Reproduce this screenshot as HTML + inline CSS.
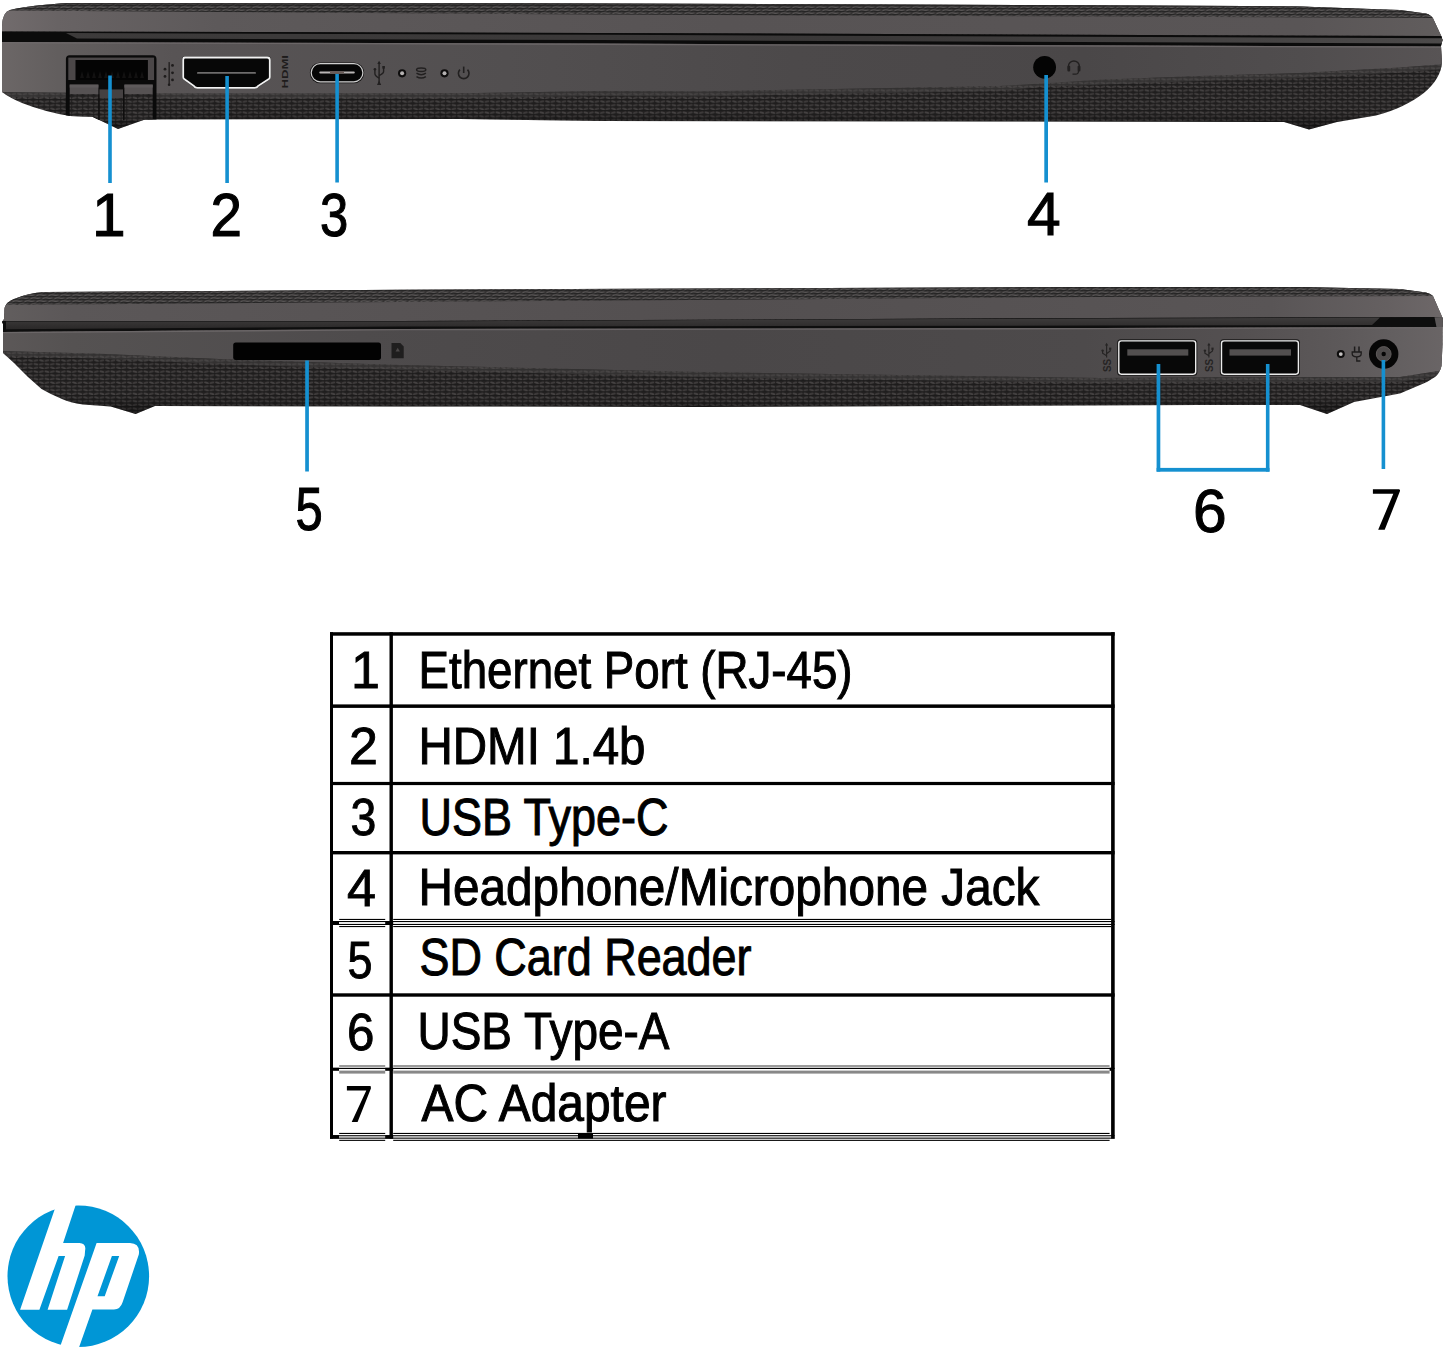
<!DOCTYPE html>
<html>
<head>
<meta charset="utf-8">
<style>
html,body{margin:0;padding:0;background:#fff;}
body{width:1445px;height:1350px;overflow:hidden;position:relative;font-family:"Liberation Sans",sans-serif;}
svg{position:absolute;left:0;top:0;display:block;}
</style>
</head>
<body>
<svg width="1445" height="1350" viewBox="0 0 1445 1350">
<defs>
  <pattern id="tex" x="0" y="0" width="11" height="7.4" patternUnits="userSpaceOnUse">
    <rect width="11" height="7.4" fill="#232121"/>
    <ellipse cx="3" cy="1.7" rx="2.5" ry="0.95" transform="rotate(14 3 1.7)" fill="#454242"/>
    <ellipse cx="8.3" cy="1.7" rx="2.5" ry="0.95" transform="rotate(-14 8.3 1.7)" fill="#3e3b3b"/>
    <ellipse cx="8.5" cy="5.4" rx="2.5" ry="0.95" transform="rotate(14 8.5 5.4)" fill="#454242"/>
    <ellipse cx="13.8" cy="5.4" rx="2.5" ry="0.95" transform="rotate(-14 13.8 5.4)" fill="#3e3b3b"/>
    <ellipse cx="2.8" cy="5.4" rx="2.5" ry="0.95" transform="rotate(-14 2.8 5.4)" fill="#3e3b3b"/>
    <rect x="0" y="3.2" width="11" height="0.5" fill="#161515"/>
    <rect x="0" y="6.9" width="11" height="0.5" fill="#161515"/>
  </pattern>
  <pattern id="tex2" x="0" y="0" width="12" height="6" patternUnits="userSpaceOnUse">
    <rect width="12" height="6" fill="#353333"/>
    <path d="M0.5,1.8 Q3,0.4 6,1.2 Q8,1.7 10.5,1" stroke="#575454" stroke-width="1.2" fill="none"/>
    <path d="M6.5,4.8 Q9,3.4 12,4.2 Q14,4.7 16.5,4 M-5.5,4.8 Q-3,3.4 0,4.2 Q2,4.7 4.5,4" stroke="#575454" stroke-width="1.2" fill="none"/>
    <path d="M0.5,2.9 Q3,1.7 6,2.4 Q8,2.9 10.5,2.2" stroke="#201f1f" stroke-width="0.8" fill="none"/>
    <path d="M6.5,5.9 Q9,4.7 12,5.4 Q14,5.9 16.5,5.2 M-5.5,5.9 Q-3,4.7 0,5.4 Q2,5.9 4.5,5.2" stroke="#201f1f" stroke-width="0.8" fill="none"/>
  </pattern>
  <linearGradient id="band1" x1="0" x2="1445" y1="0" y2="0" gradientUnits="userSpaceOnUse">
    <stop offset="0" stop-color="#6c6767"/>
    <stop offset="0.04" stop-color="#625e5e"/>
    <stop offset="0.12" stop-color="#585455"/>
    <stop offset="0.35" stop-color="#524f50"/>
    <stop offset="0.55" stop-color="#4c494a"/>
    <stop offset="0.75" stop-color="#4a4748"/>
    <stop offset="0.9" stop-color="#504d4e"/>
    <stop offset="1" stop-color="#585455"/>
  </linearGradient>
  <linearGradient id="lid1" x1="0" x2="1445" y1="0" y2="0" gradientUnits="userSpaceOnUse">
    <stop offset="0" stop-color="#726c6d"/>
    <stop offset="0.04" stop-color="#686364"/>
    <stop offset="0.15" stop-color="#5d595a"/>
    <stop offset="0.5" stop-color="#575354"/>
    <stop offset="0.9" stop-color="#595556"/>
    <stop offset="1" stop-color="#615d5d"/>
  </linearGradient>
  <linearGradient id="band2" x1="0" x2="1445" y1="0" y2="0" gradientUnits="userSpaceOnUse">
    <stop offset="0" stop-color="#5c5858"/>
    <stop offset="0.05" stop-color="#555252"/>
    <stop offset="0.25" stop-color="#4e4b4c"/>
    <stop offset="0.5" stop-color="#4a4748"/>
    <stop offset="0.75" stop-color="#4d4a4b"/>
    <stop offset="0.86" stop-color="#545051"/>
    <stop offset="0.93" stop-color="#5d595a"/>
    <stop offset="0.97" stop-color="#646061"/>
    <stop offset="1" stop-color="#6a6566"/>
  </linearGradient>
  <linearGradient id="lid2" x1="0" x2="1445" y1="0" y2="0" gradientUnits="userSpaceOnUse">
    <stop offset="0" stop-color="#625e5e"/>
    <stop offset="0.05" stop-color="#5b5758"/>
    <stop offset="0.5" stop-color="#534f50"/>
    <stop offset="0.88" stop-color="#595556"/>
    <stop offset="0.96" stop-color="#656061"/>
    <stop offset="1" stop-color="#6e6869"/>
  </linearGradient>
  <linearGradient id="gapg" x1="0" x2="0" y1="0" y2="1">
    <stop offset="0" stop-color="#3e3c3c"/>
    <stop offset="1" stop-color="#2a2828"/>
  </linearGradient>
  <linearGradient id="gap1" x1="0" x2="1445" y1="0" y2="0" gradientUnits="userSpaceOnUse">
    <stop offset="0" stop-color="#3d3b3b"/>
    <stop offset="0.6" stop-color="#3a3838"/>
    <stop offset="1" stop-color="#4c4a4a"/>
  </linearGradient>
  <linearGradient id="fadeT" x1="0" x2="0" y1="0" y2="1">
    <stop offset="0" stop-color="#4d4b4c" stop-opacity="1"/>
    <stop offset="1" stop-color="#4d4b4c" stop-opacity="0"/>
  </linearGradient>
  <linearGradient id="fadeB" x1="0" x2="0" y1="0" y2="1">
    <stop offset="0" stop-color="#000" stop-opacity="0"/>
    <stop offset="1" stop-color="#000" stop-opacity="0.55"/>
  </linearGradient>

  <clipPath id="c1"><path d="M2,92 L2,26 Q2.5,12 10,10 Q30,5 70,3 L600,3.4 L1245,6 L1300,6.5 L1400,10 L1426,13.6 Q1431,15 1433,18.3 L1441.5,36.5 L1442.5,40 L1441,46 L1442,62 C1441,85 1415,105 1376,115.5 L1337,122 L1309,129.5 L1284,122 L1000,121.5 L600,121 L460,119 L145,119.5 L118,129 L92,116.5 L70,116 Q45,112 22,103 Q10,98 2,92 Z"/></clipPath>
  <clipPath id="c2"><path d="M3,352 L3,324 L2,322 L4,319 L4.5,308 Q6,302 14,299 Q28,293 45,292 L400,289.7 L1100,287 L1300,287 L1400,289 L1426,292.5 Q1431,293.6 1433,296 L1441.5,315.5 L1442.5,318 L1442.5,345 L1441.5,366 Q1440,373 1435,377 Q1428,382 1420,385 L1400,393.5 L1354,402 L1327,414 L1300,405 L1200,405 L700,407 L400,406.4 L155,406 L135.6,414 L110.7,406.5 L83,404.6 Q70,402.5 62,399 Q50,394 41.5,389 L28,377 L14,363 L3,353 Z"/></clipPath>
</defs>
<g clip-path="url(#c1)">
  <rect x="0" y="0" width="1445" height="140" fill="url(#tex)"/>
  <path d="M0,0 L600,0 L1445,0 L1445,18 L600,14.5 L0,10.5 Z" fill="url(#tex2)"/>
  <path d="M0,0 L1445,0 L1445,7.5 L0,4.5 Z" fill="#2a2828" opacity="0.6"/>
  <path d="M0,10.5 L600,14.5 L1445,18 L1445,36 L600,33 L0,31.4 Z" fill="url(#lid1)"/>
  <path d="M0,31.4 L600,33 L1445,36 L1445,46.5 L600,43.6 L0,42 Z" fill="#0b0b0b"/>
  <path d="M66,33 L600,34.8 L1443,38.2 L1443,43.6 L600,40 L77,38.6 Z" fill="url(#gap1)"/>
  <path d="M0,42 L70,42.19 L160,42.43 L300,42.8 L460,43.23 L600,43.6 L700,43.94 L850,44.46 L1000,44.97 L1100,45.32 L1200,45.66 L1300,46 L1400,46.35 L1445,46.5 L1445,64 L1400,67.6 L1300,73 L1200,76 L1100,79.75 L1000,86 L850,88.75 L700,91.5 L600,91 L460,93.3 L300,93.46 L160,93.6 L70,92.7 L0,92 Z" fill="url(#band1)"/>
  <path d="M0,92 L160,93.6 L460,93.3 L600,91 L700,91.5 L1000,86 L1040,82 L1200,76 L1300,73 L1400,67.6 L1445,64 L1445,69 L1400,72.6 L1300,78 L1200,81 L1040,87 L1000,91 L700,96.5 L600,96 L460,98.3 L160,98.6 L0,97 Z" fill="#4d4b4c" opacity="0.45"/>
  <path d="M0,42 L600,43.6 L1445,46.5 L1445,47.8 L600,45 L0,43.4 Z" fill="#6e6a6b" opacity="0.85"/>
  <path d="M0,110 L600,115 L1445,116 L1445,135 L0,135 Z" fill="url(#fadeB)"/>
  <path d="M65.9,120 L65.9,59 Q65.9,55.2 69.7,55.2 L152.7,55.2 Q156.5,55.2 156.5,59 L156.5,120 Z" fill="#0a0a0a"/>
  <rect x="68.3" y="57.6" width="85.8" height="22.4" fill="#4b4748"/>
  <rect x="75.5" y="60" width="72.4" height="20" fill="#040404"/>
  <rect x="69.7" y="84.6" width="28.7" height="9.7" fill="#565253"/>
  <rect x="69.7" y="84.6" width="28.7" height="3" fill="#5e5a5b"/>
  <rect x="124.4" y="84.6" width="28.3" height="9.7" fill="#565253"/>
  <rect x="124.4" y="84.6" width="28.3" height="3" fill="#5e5a5b"/>
  <rect x="99.4" y="89.4" width="23.6" height="9" fill="#454142"/>
  <rect x="69.7" y="94.3" width="28.7" height="26" fill="url(#tex)"/>
  <rect x="124.4" y="94.3" width="28.3" height="26" fill="url(#tex)"/>
  <rect x="99.4" y="98.4" width="23.6" height="22" fill="url(#tex)"/>
  <rect x="98.4" y="94.3" width="1" height="26" fill="#141313"/>
  <rect x="123.4" y="94.3" width="1" height="26" fill="#141313"/>
  <g fill="#121111">
    <path d="M80,78 L82,71 L84,78 Z M86,78 L88,71 L90,78 Z M92,78 L94,71 L96,78 Z M98,78 L100,71 L102,78 Z M104,78 L106,71 L108,78 Z M110,78 L112,71 L114,78 Z M116,78 L118,71 L120,78 Z M122,78 L124,71 L126,78 Z M128,78 L130,71 L132,78 Z M134,78 L136,71 L138,78 Z M140,78 L142,71 L144,78 Z"/>
  </g>
</g>
<g fill="#1e1c1c">
  <rect x="168.5" y="62.1" width="1.3" height="22.5"/>
  <circle cx="169.1" cy="84.8" r="1.3"/>
  <circle cx="165" cy="69.2" r="1.4"/><circle cx="165" cy="76.4" r="1.4"/>
  <circle cx="172.5" cy="65.4" r="1.4"/><circle cx="172.5" cy="72.8" r="1.4"/><circle cx="172.5" cy="79.9" r="1.4"/>
</g>
<path d="M184.5,56.3 L267.5,56.3 Q270.9,56.3 270.9,59.5 L270.9,77.5 Q270.9,79 269.5,79.8 L259,86.5 Q257.5,89 255,89 L197,89 Q194.5,89 193,86.5 L183.5,79.8 Q182,79 182,77.5 L182,59.5 Q182,56.3 184.5,56.3 Z" fill="#1a1919"/>
<path d="M184.8,57.5 L267.2,57.5 Q269.8,57.5 269.8,60 L269.8,77.2 Q269.8,78.3 268.8,79 L258.3,85.8 Q257,87.9 254.8,87.9 L197.2,87.9 Q195,87.9 193.7,85.8 L184.2,79 Q183.2,78.3 183.2,77.2 L183.2,60 Q183.2,57.5 184.8,57.5 Z" fill="#070707" stroke="#f2f2f2" stroke-width="1.8"/>
<rect x="197" y="72" width="59" height="1.8" rx="0.9" fill="#6e6c6c"/>
<text transform="translate(288.2,88.6) rotate(-90)" font-family="Liberation Sans" font-weight="bold" font-size="9.3" fill="#1e1c1c" textLength="33.6" lengthAdjust="spacingAndGlyphs">HDMI</text>
<rect x="309.8" y="62.4" width="54.4" height="20.8" rx="10.4" fill="#161515"/>
<rect x="311.2" y="63.7" width="51.7" height="18.1" rx="9" fill="#060606" stroke="#cfcfcf" stroke-width="1.2"/>
<rect x="319.3" y="71.4" width="35.5" height="2" rx="1" fill="#b8b4b4"/>
<rect x="330" y="71.4" width="14" height="2" fill="#6a5c58"/>
<g stroke="#222020" fill="none" stroke-width="1.4">
  <path d="M379.1,62.5 L379.1,83"/>
  <path d="M374.9,70 L374.9,73.5 Q374.9,76 379.1,78"/>
  <path d="M383.6,68 L383.6,71.5 Q383.6,73.5 379.1,75.5"/>
  <path d="M459.9,69.6 A5.3,5.3 0 1 0 467.5,69.6" stroke-width="1.6"/>
  <path d="M463.7,66.6 L463.7,73" stroke-width="1.6"/>
  <ellipse cx="421.2" cy="69.8" rx="4.6" ry="1.7" stroke-width="1.5"/>
  <path d="M416.5,73.2 Q421.2,76.2 425.9,73.2 M416.5,76.6 Q421.2,79.6 425.9,76.6" stroke-width="1.5"/>
</g>
<path d="M379.1,60.8 L377.3,64 L380.9,64 Z" fill="#222020"/>
<path d="M379.1,80.5 L377,85 L381.2,85 Z" fill="#222020"/>
<circle cx="374.9" cy="69.3" r="1.3" fill="#222020"/>
<rect x="382.3" y="66" width="2.6" height="2.6" fill="#222020"/>
<circle cx="402.1" cy="73.3" r="4.1" fill="#0e0d0d"/>
<circle cx="402.1" cy="73.3" r="2" fill="#b5b2b2"/>
<circle cx="444.5" cy="73.3" r="4.1" fill="#0e0d0d"/>
<circle cx="444.5" cy="73.3" r="2" fill="#b5b2b2"/>
<circle cx="1044.6" cy="67.3" r="11.4" fill="#040404"/>
<path d="M1068.4,69.5 L1068.4,66.5 A5.5,5.5 0 0 1 1079.4,66.5 L1079.4,69.5" stroke="#222020" stroke-width="1.4" fill="none"/>
<rect x="1067.4" y="65.8" width="2.8" height="5.6" rx="1" fill="#222020"/>
<rect x="1077.6" y="65.8" width="2.8" height="5.6" rx="1" fill="#222020"/>
<path d="M1078.5,71 Q1078.5,74.2 1075.5,74.2 L1072.5,74.2" stroke="#222020" stroke-width="1.2" fill="none"/>
<g clip-path="url(#c2)">
  <rect x="0" y="280" width="1445" height="140" fill="url(#tex)"/>
  <path d="M0,280 L400,280 L1100,280 L1445,280 L1445,296 L1100,297 L400,302 L0,305 Z" fill="url(#tex2)"/>
  <path d="M0,305 L400,302 L1100,297 L1445,296 L1445,317 L1100,318 L400,321 L0,321 Z" fill="url(#lid2)"/>
  <path d="M0,321 L400,321 L1100,318 L1445,317 L1445,327 L1100,328 L400,329 L0,332 Z" fill="#0e0e0e"/>
  <path d="M6,321.6 L400,321.4 L1100,318.4 L1370,317.6 L1380,317.6 L1372,325 L1100,325.6 L400,326.6 L6,329.2 Z" fill="url(#gapg)"/>
  <path d="M0,332 L100,331.25 L230,330.27 L400,329 L700,328.57 L1100,328 L1245,327.58 L1400,327.13 L1445,327 L1445,370 L1400,377 L1245,377 L1100,378 L700,372 L400,365 L230,359.4 L100,353.8 L0,351 Z" fill="url(#band2)"/>
  <path d="M0,332 L400,329 L1100,328 L1445,327 L1445,328.2 L1100,329.3 L400,330.3 L0,333.3 Z" fill="#6e6a6b" opacity="0.85"/>
  <path d="M1434.5,317.2 L1445,317 L1445,327 L1436.5,327.2 Z" fill="#5c5859"/>
  <path d="M0,351 L100,353.8 L230,359.4 L400,365 L700,372 L1100,378 L1245,377 L1400,377 L1445,370 L1445,375 L1400,382 L1245,382 L1100,383 L700,377 L400,370 L230,364.4 L100,358.8 L0,356 Z" fill="#4d4b4c" opacity="0.45"/>
  <path d="M0,395 L600,402 L1445,400 L1445,420 L0,420 Z" fill="url(#fadeB)"/>
</g>
<rect x="233.2" y="342.4" width="147.8" height="17.5" rx="2.6" fill="#020202"/>
<path d="M391.5,343 L400.3,343 L403.7,346.4 L403.7,358.2 L391.5,358.2 Z" fill="#1f1e1e"/>
<path d="M395.5,351.5 L397.7,347.8 L399.9,351.5 Z" fill="#4a4747"/>
<rect x="1117.2" y="339.3" width="80.1" height="36.5" rx="3.5" fill="#1a1919"/>
<rect x="1118.8" y="340.9" width="76.9" height="33.3" rx="2.6" fill="#080808" stroke="#ececec" stroke-width="1.4"/>
<rect x="1127.3" y="349.3" width="61" height="6.3" fill="#524f4f"/>
<rect x="1219.9" y="339.3" width="80.1" height="36.5" rx="3.5" fill="#1a1919"/>
<rect x="1221.5" y="340.9" width="76.9" height="33.3" rx="2.6" fill="#080808" stroke="#ececec" stroke-width="1.4"/>
<rect x="1229.5" y="349.3" width="61.5" height="6.3" fill="#524f4f"/>
<text transform="translate(1110.9,372) rotate(-90)" font-family="Liberation Sans" font-weight="bold" font-size="11.2" fill="#262424" textLength="13.2" lengthAdjust="spacingAndGlyphs">SS</text>
<g stroke="#262424" stroke-width="1.2" fill="none"><path d="M1106.6,344.5 L1106.6,357.5 M1106.6,355.8 L1102.6,353.2 L1102.6,351 M1106.6,353.8 L1110.2,351 L1110.2,349.2"/></g>
<path d="M1106.6,342.8 L1105,345.6 L1108.2,345.6 Z" fill="#262424"/>
<circle cx="1102.6" cy="350.6" r="1.2" fill="#262424"/>
<rect x="1109.1" y="347.6" width="2.2" height="2.2" fill="#262424"/>
<text transform="translate(1213.2,372) rotate(-90)" font-family="Liberation Sans" font-weight="bold" font-size="11.2" fill="#262424" textLength="13.2" lengthAdjust="spacingAndGlyphs">SS</text>
<g stroke="#262424" stroke-width="1.2" fill="none"><path d="M1208.9,344.5 L1208.9,357.5 M1208.9,355.8 L1204.9,353.2 L1204.9,351 M1208.9,353.8 L1212.5,351 L1212.5,349.2"/></g>
<path d="M1208.9,342.8 L1207.3,345.6 L1210.5,345.6 Z" fill="#262424"/>
<circle cx="1204.9" cy="350.6" r="1.2" fill="#262424"/>
<rect x="1211.4" y="347.6" width="2.2" height="2.2" fill="#262424"/>
<circle cx="1340.8" cy="354.1" r="4" fill="#0e0d0d"/>
<circle cx="1340.8" cy="354.1" r="1.9" fill="#c4c1c1"/>
<g stroke="#1e1c1c" fill="none" stroke-width="1.3">
  <path d="M1352.2,352 L1361.2,352 L1361.2,353.8 Q1361.2,356.9 1356.7,356.9 Q1352.2,356.9 1352.2,353.8 Z"/>
  <path d="M1354.6,346.6 L1354.6,352 M1359,346.6 L1359,352" stroke-width="1.5"/>
  <path d="M1356.8,357 L1356.8,361 L1360.4,361"/>
</g>
<circle cx="1383.7" cy="354" r="14.7" fill="#060606"/>
<circle cx="1383.7" cy="354" r="7.4" fill="#4d4a4a"/>
<circle cx="1383.7" cy="354" r="7.4" fill="none" stroke="#5f5b5b" stroke-width="1"/>
<circle cx="1383.7" cy="354" r="2.2" fill="#050505"/>
<g fill="#1590d0">
  <rect x="108.2" y="75.5" width="3.6" height="107.5"/>
  <rect x="225.3" y="76" width="3.6" height="107"/>
  <rect x="335.3" y="74" width="3.6" height="108.5"/>
  <rect x="1044.3" y="75" width="3.7" height="107.5"/>
  <rect x="305.2" y="360.5" width="3.7" height="111"/>
  <rect x="1156.6" y="364" width="3.7" height="107.6"/>
  <rect x="1265.9" y="364" width="3.6" height="107.6"/>
  <rect x="1156.6" y="467.9" width="112.9" height="3.8"/>
  <rect x="1381.6" y="360" width="3.6" height="109"/>
</g>
<g font-family="Liberation Sans" font-size="60.5" fill="#000" stroke="#000" stroke-width="1.1">
  <text x="92" y="235.5">1</text>
  <text x="210.5" y="236" textLength="31.5" lengthAdjust="spacingAndGlyphs">2</text>
  <text x="320" y="236" textLength="28.3" lengthAdjust="spacingAndGlyphs">3</text>
  <text x="1027" y="234.5">4</text>
  <text x="295.5" y="530" textLength="27.2" lengthAdjust="spacingAndGlyphs">5</text>
  <text x="1193" y="532">6</text>
</g>
<g fill="#000">
  <rect x="330" y="632.2" width="784.6" height="3.5"/>
  <rect x="330" y="632.2" width="3" height="506.4"/>
  <rect x="1111.1" y="632.2" width="3.6" height="506.4"/>
  <rect x="389.5" y="632.2" width="3.4" height="506.4"/>
  <rect x="330" y="704.4" width="784.6" height="3.5"/>
  <rect x="330" y="781.9" width="784.6" height="3.2"/>
  <rect x="330" y="851" width="784.6" height="3.4"/>
  <rect x="330" y="993.3" width="784.6" height="3.4"/>
  <rect x="330" y="921" width="784.6" height="1.1"/>
  <rect x="330" y="923.9" width="784.6" height="1.1"/>
  <rect x="330" y="921" width="9" height="4"/>
  <rect x="385.2" y="921" width="8" height="4"/>
  <rect x="339.2" y="918.9" width="46" height="1.1"/>
  <rect x="339.2" y="926" width="46" height="1.1"/>
  <rect x="393.2" y="918.9" width="718" height="1.1"/>
  <rect x="393.2" y="926" width="718" height="1.1"/>
  <rect x="330" y="1067.8" width="784.6" height="1.2"/>
  <rect x="330" y="1067.8" width="9" height="3"/>
  <rect x="385.2" y="1067.8" width="8" height="3"/>
  <rect x="1109.6" y="1067.8" width="2" height="3"/>
  <rect x="330" y="1135.2" width="784.6" height="1.1"/>
  <rect x="330" y="1137.6" width="784.6" height="1.1"/>
  <rect x="330" y="1135.2" width="9" height="3.4"/>
  <rect x="385.2" y="1135.2" width="8" height="3.4"/>
  <rect x="339.2" y="1132.9" width="46" height="1.1"/>
  <rect x="339.2" y="1139.8" width="46" height="1.1"/>
  <rect x="393.2" y="1132.9" width="716.4" height="1.1"/>
  <rect x="393.2" y="1139.8" width="716.4" height="1.1"/>
</g>
<g fill="#5a5a5a">
  <rect x="339.2" y="1065.4" width="46" height="1.2"/>
  <rect x="393.2" y="1065.4" width="716.4" height="1.2"/>
</g>
<g fill="#888">
  <rect x="339.2" y="1070.6" width="46" height="3"/>
  <rect x="393.2" y="1070.6" width="716.4" height="3"/>
</g>
<rect x="578" y="1133" width="15" height="5.6" fill="#000"/>
<g font-family="Liberation Sans" font-size="52" fill="#000" stroke="#000" stroke-width="0.9">
  <text x="351" y="688">1</text>
  <text x="349" y="764">2</text>
  <text x="350.5" y="835" textLength="25.8" lengthAdjust="spacingAndGlyphs">3</text>
  <text x="347" y="906">4</text>
  <text x="347.5" y="978" textLength="25" lengthAdjust="spacingAndGlyphs">5</text>
  <text x="347" y="1050" textLength="27.4" lengthAdjust="spacingAndGlyphs">6</text>
</g>
<g font-family="Liberation Sans" font-size="51" fill="#000" stroke="#000" stroke-width="1.0">
  <text x="418.5" y="688" textLength="434" lengthAdjust="spacingAndGlyphs">Ethernet Port (RJ-45)</text>
  <text x="418.5" y="764" textLength="227" lengthAdjust="spacingAndGlyphs">HDMI 1.4b</text>
  <text x="419.5" y="835" textLength="249" lengthAdjust="spacingAndGlyphs">USB Type-C</text>
  <text x="418.5" y="905" textLength="621" lengthAdjust="spacingAndGlyphs">Headphone/Microphone Jack</text>
  <text x="419.5" y="975" textLength="332" lengthAdjust="spacingAndGlyphs">SD Card Reader</text>
  <text x="417.5" y="1049" textLength="252" lengthAdjust="spacingAndGlyphs">USB Type-A</text>
  <text x="421.5" y="1121" textLength="245" lengthAdjust="spacingAndGlyphs">AC Adapter</text>
</g>
<path d="M1372.9,489.3 L1399,489.3 Q1400.3,489.5 1400,491 L1384.7,529.8 L1378.2,529.8 L1393.3,493.8 L1372.9,493.8 Z" fill="#000"/>
<path d="M346.9,1085.9 L370.4,1085.9 Q371,1086.2 370.9,1088.5 L357.6,1121.9 L351.7,1121.9 L366.3,1090.4 L346.9,1090.4 Z" fill="#000"/>
<circle cx="78.3" cy="1276.2" r="70.8" fill="#0096d6"/>
<path d="M58.6,1198 L78,1198 L63.1,1242.9 L79.4,1242.9 Q86.5,1243.2 85.1,1250.6 L84.7,1255.5 L67.1,1309.7 L47.6,1309.7 L65.1,1255.9 L58.6,1255.9 L39.4,1309.7 L20.1,1309.7 Z" fill="#fff"/>
<path d="M96.6,1243.1 L130,1243.1 Q140.5,1243.5 138.8,1254.6 L122.6,1302.3 Q120.3,1309.5 114,1309.5 L92.4,1309.5 L76,1356 L56.8,1356 Z M111.9,1255.9 L119.2,1255.9 L104.7,1296.3 L97.5,1296.3 Z" fill="#fff" fill-rule="evenodd"/>
</svg>
</body>
</html>
